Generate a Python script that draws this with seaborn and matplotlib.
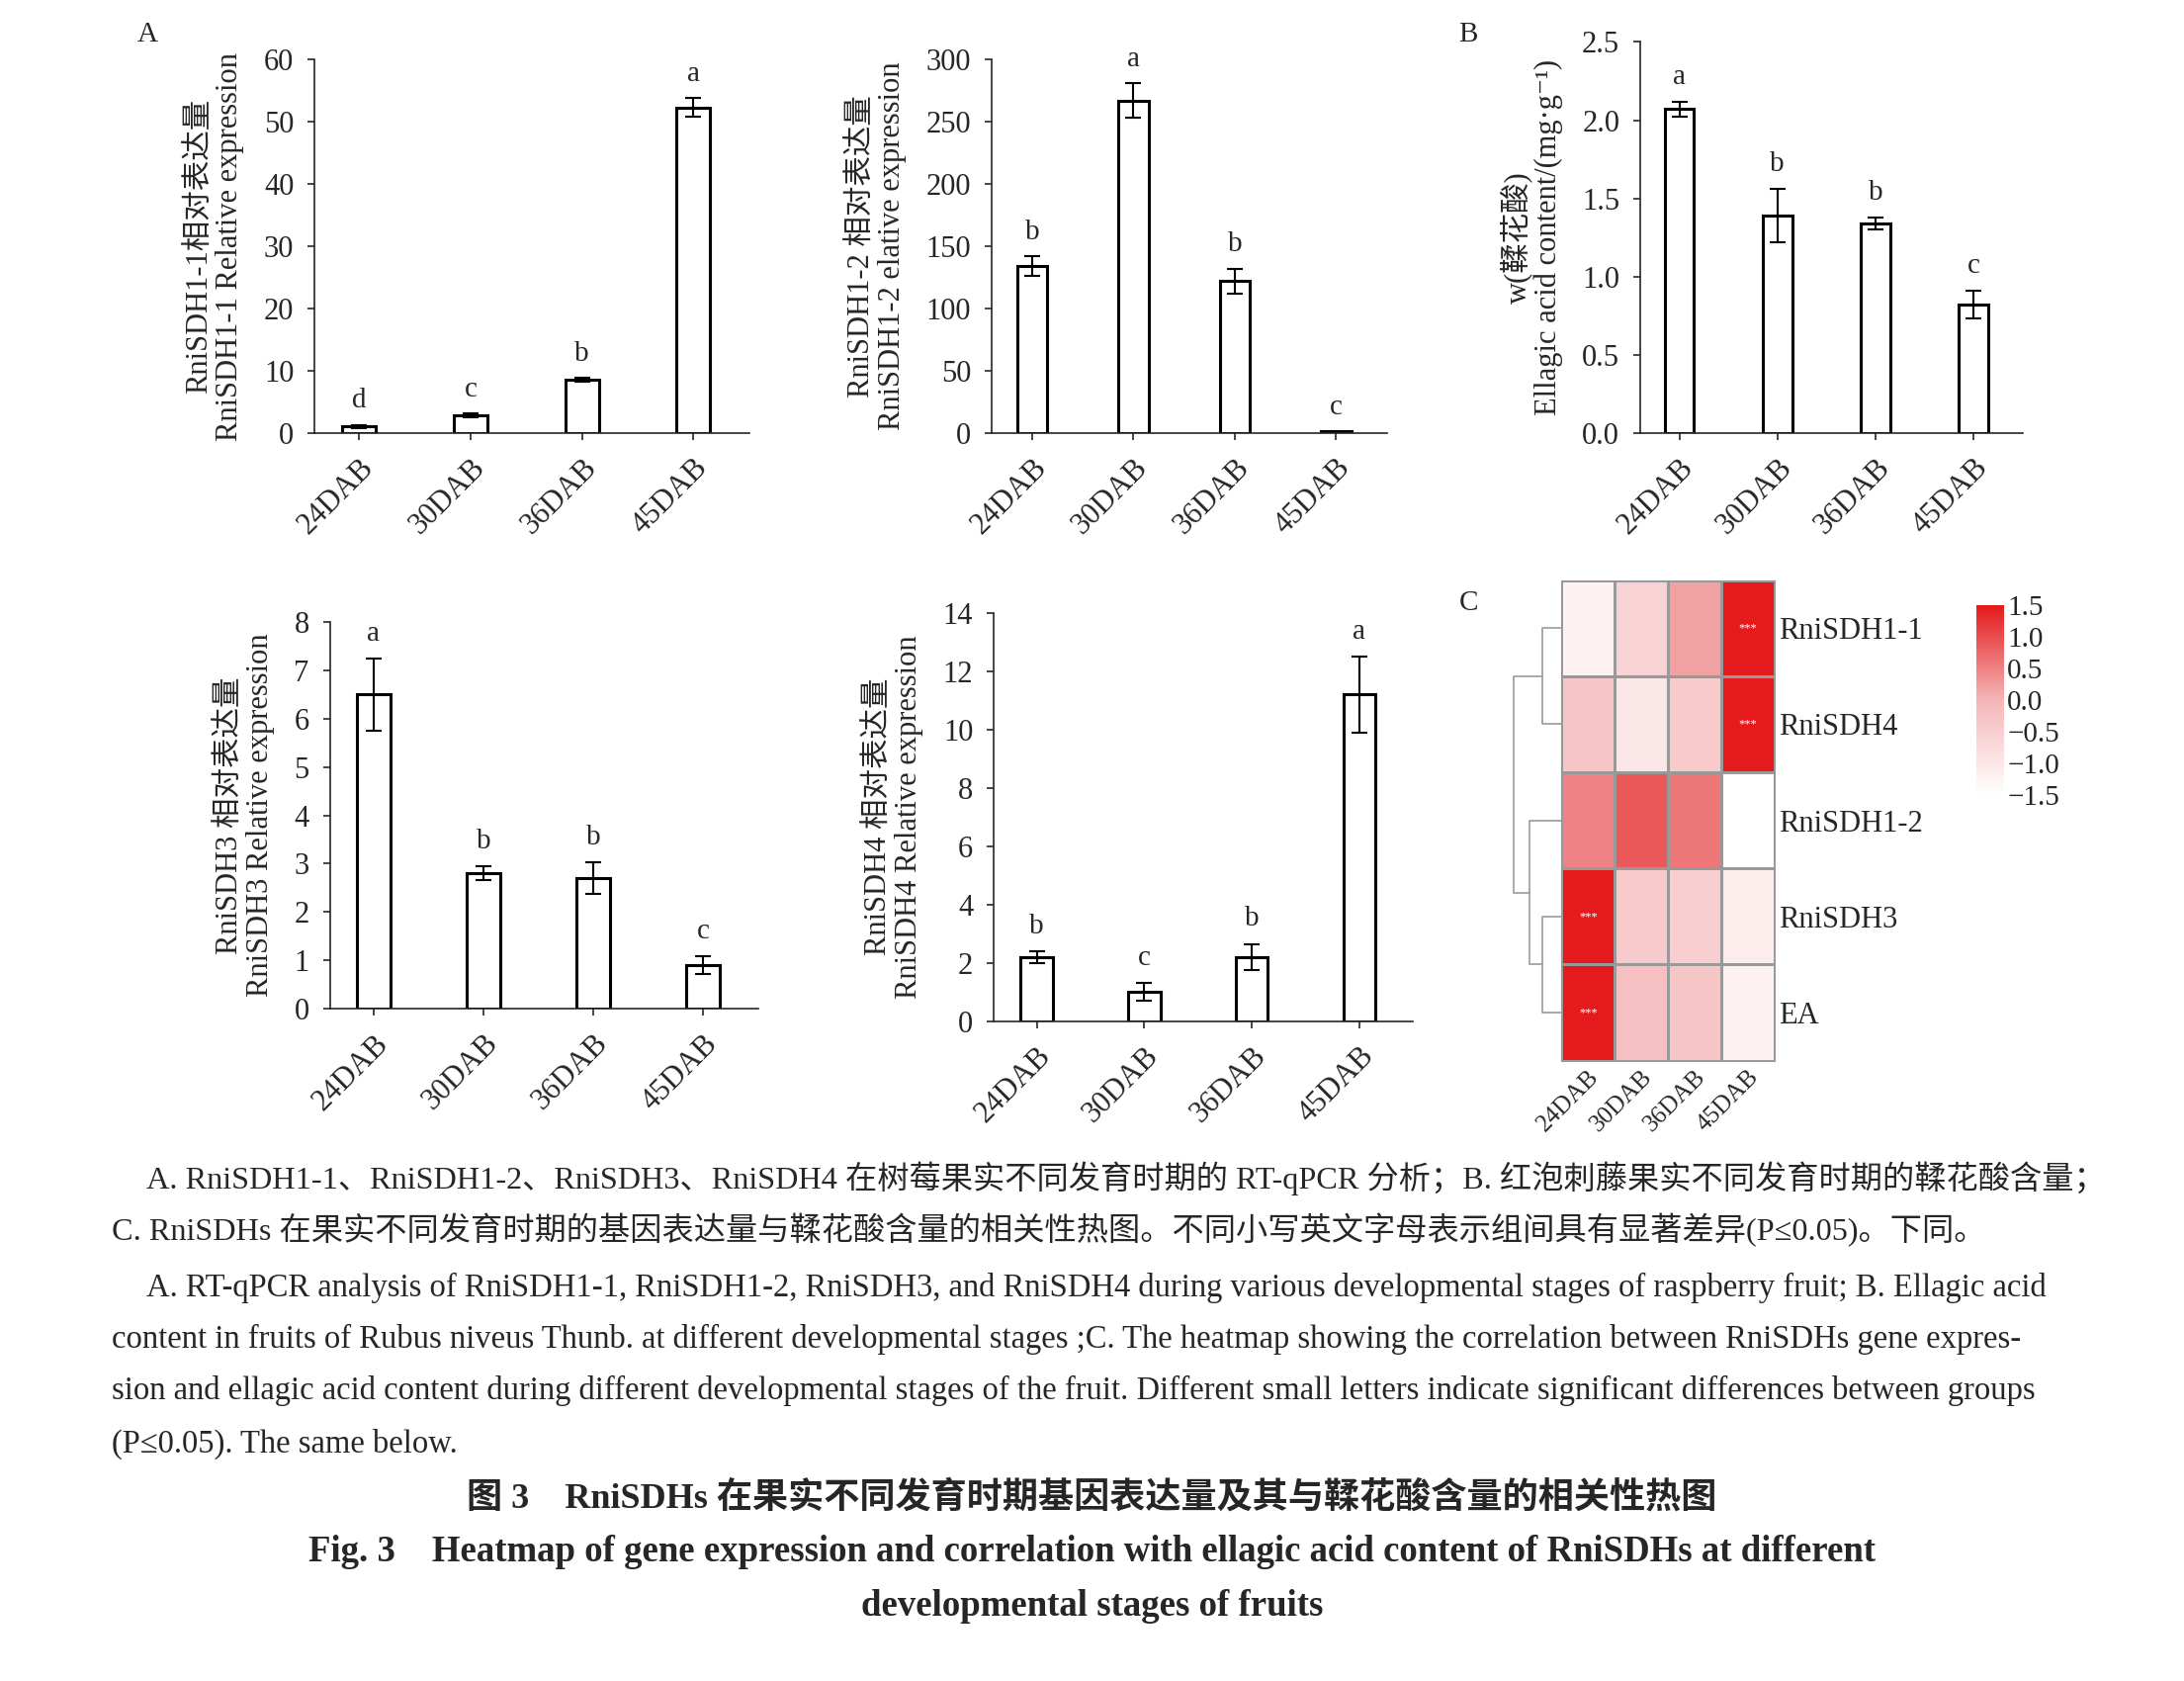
import numpy as np
import pandas as pd
import seaborn as sns
import matplotlib.pyplot as plt
from matplotlib.colors import LinearSegmentedColormap

sns.set_style("ticks")
plt.rcParams['font.family'] = ['Liberation Serif', 'Noto Sans CJK SC', 'DejaVu Sans']

stages = ["24DAB", "30DAB", "36DAB", "45DAB"]

sdh11 = [1.0, 2.8, 8.5, 52.3]
sdh11_err = [0.3, 0.3, 0.3, 1.5]
sdh11_let = ["d", "c", "b", "a"]

sdh12 = [134, 267, 122, 1]
sdh12_err = [8, 14, 10, 0.5]
sdh12_let = ["b", "a", "b", "c"]

ea = [2.07, 1.39, 1.34, 0.82]
ea_err = [0.05, 0.17, 0.04, 0.09]
ea_let = ["a", "b", "b", "c"]

sdh3 = [6.5, 2.8, 2.7, 0.9]
sdh3_err = [0.75, 0.15, 0.33, 0.18]
sdh3_let = ["a", "b", "b", "c"]

sdh4 = [2.2, 1.0, 2.2, 11.2]
sdh4_err = [0.2, 0.3, 0.45, 1.3]
sdh4_let = ["b", "c", "b", "a"]

heat_rows = ["RniSDH1-1", "RniSDH4", "RniSDH1-2", "RniSDH3", "EA"]
heat_vals = [[-1.2, -0.6, 0.2, 1.5],
             [-0.3, -1.0, -0.4, 1.5],
             [0.5, 0.9, 0.6, -1.5],
             [1.5, -0.4, -0.5, -1.1],
             [1.5, -0.2, -0.3, -1.2]]
heat_stars = [[0, 0, 0, 1], [0, 0, 0, 1], [0, 0, 0, 0], [1, 0, 0, 0], [1, 0, 0, 0]]

fig = plt.figure(figsize=(22.09, 17), dpi=100)
FS = 21


def bar_panel(rect, vals, errs, lets, ylim, yticks, ylabel, fmt=None):
    ax = fig.add_axes(rect)
    df = pd.DataFrame({"stage": stages, "val": vals})
    sns.barplot(data=df, x="stage", y="val", ax=ax, color="white",
                edgecolor="black", linewidth=2.2, width=0.3)
    ax.errorbar(range(4), vals, yerr=errs, fmt="none", ecolor="black",
                elinewidth=1.5, capsize=6, capthick=1.5)
    span = ylim[1] - ylim[0]
    for i, (v, e, l) in enumerate(zip(vals, errs, lets)):
        ax.text(i, v + e + span * 0.03, l, ha="center", va="bottom", fontsize=FS)
    ax.set_ylim(ylim)
    ax.set_xlim(-0.4, 3.5)
    ax.set_yticks(yticks)
    if fmt:
        ax.set_yticklabels([fmt % t for t in yticks])
    ax.set_xlabel("")
    ax.set_ylabel(ylabel, fontsize=FS + 1, linespacing=1.05, labelpad=14)
    ax.tick_params(labelsize=FS + 1, width=1.2, length=5, pad=10)
    plt.setp(ax.get_xticklabels(), rotation=45, ha="right", rotation_mode="anchor")
    for s in ["top", "right"]:
        ax.spines[s].set_visible(False)
    for s in ["left", "bottom"]:
        ax.spines[s].set_linewidth(1.2)
    return ax


bar_panel([0.144, 0.7425, 0.199, 0.222], sdh11, sdh11_err, sdh11_let, (0, 60),
          range(0, 61, 10), "RniSDH1-1相对表达量\nRniSDH1-1 Relative expression")
bar_panel([0.454, 0.7425, 0.181, 0.222], sdh12, sdh12_err, sdh12_let, (0, 300),
          range(0, 301, 50), "RniSDH1-2 相对表达量\nRniSDH1-2 elative expression")
bar_panel([0.751, 0.7425, 0.175, 0.2325], ea, ea_err, ea_let, (0, 2.5),
          np.arange(0, 2.51, 0.5), "w(鞣花酸)\nEllagic acid content/(mg·g⁻¹)", fmt="%.1f")
bar_panel([0.151, 0.40, 0.196, 0.23], sdh3, sdh3_err, sdh3_let, (0, 8),
          range(0, 9), "RniSDH3 相对表达量\nRniSDH3 Relative expression")
bar_panel([0.455, 0.3925, 0.192, 0.243], sdh4, sdh4_err, sdh4_let, (0, 14),
          range(0, 15, 2), "RniSDH4 相对表达量\nRniSDH4 Relative expression")

# heatmap
cmap = LinearSegmentedColormap.from_list("wr", ["#ffffff", "#f4b6b8", "#e41a1c"])
hax = fig.add_axes([0.715, 0.369, 0.0974, 0.286])
cax = fig.add_axes([0.905, 0.527, 0.0128, 0.113])
hdf = pd.DataFrame(heat_vals, index=heat_rows, columns=stages)
annot = np.array([["***" if s else "" for s in r] for r in heat_stars])
sns.heatmap(hdf, ax=hax, cmap=cmap, vmin=-1.5, vmax=1.5, cbar_ax=cax,
            annot=annot, fmt="", annot_kws={"color": "white", "fontsize": 9},
            linewidths=1, linecolor="#999999")
hax.yaxis.tick_right()
hax.set_yticklabels(heat_rows, rotation=0, fontsize=FS + 1)
hax.set_xticklabels(stages, rotation=45, ha="right", rotation_mode="anchor", fontsize=FS - 3)
hax.tick_params(length=0)
for s in hax.spines.values():
    s.set_visible(True)
    s.set_color("#999999")
cax.set_yticks([-1.5, -1.0, -0.5, 0.0, 0.5, 1.0, 1.5])
cax.set_yticklabels(["\u22121.5", "\u22121.0", "\u22120.5", "0.0", "0.5", "1.0", "1.5"])
cax.tick_params(labelsize=FS, length=0, pad=2)

# dendrogram
dax = fig.add_axes([0.686, 0.369, 0.029, 0.286])
dax.set_ylim(5, 0)
dax.set_xlim(1, 0)
dax.axis("off")
lc = "#999999"
dax.plot([0, 0.3, 0.3, 0], [0.5, 0.5, 1.5, 1.5], color=lc, lw=1.2)
dax.plot([0, 0.3, 0.3, 0], [3.5, 3.5, 4.5, 4.5], color=lc, lw=1.2)
dax.plot([0, 0.5, 0.5, 0.3], [2.5, 2.5, 4.0, 4.0], color=lc, lw=1.2)
dax.plot([0.3, 0.75, 0.75, 0.5], [1.0, 1.0, 3.25, 3.25], color=lc, lw=1.2)

fig.text(0.063, 0.975, "A", fontsize=FS)
fig.text(0.668, 0.975, "B", fontsize=FS)
fig.text(0.668, 0.637, "C", fontsize=FS)

cap = 23.5
fig.text(0.067, 0.293, "A. RniSDH1-1、RniSDH1-2、RniSDH3、RniSDH4 在树莓果实不同发育时期的 RT-qPCR 分析；B. 红泡刺藤果实不同发育时期的鞣花酸含量；", fontsize=23.2)
fig.text(0.051, 0.2625, "C. RniSDHs 在果实不同发育时期的基因表达量与鞣花酸含量的相关性热图。不同小写英文字母表示组间具有显著差异(P≤0.05)。下同。", fontsize=23.2)
fig.text(0.067, 0.229, "A. RT-qPCR analysis of RniSDH1-1, RniSDH1-2, RniSDH3, and RniSDH4 during various developmental stages of raspberry fruit; B. Ellagic acid", fontsize=cap)
fig.text(0.051, 0.198, "content in fruits of Rubus niveus Thunb. at different developmental stages ;C. The heatmap showing the correlation between RniSDHs gene expres-", fontsize=cap)
fig.text(0.051, 0.1675, "sion and ellagic acid content during different developmental stages of the fruit. Different small letters indicate significant differences between groups", fontsize=cap)
fig.text(0.051, 0.136, "(P≤0.05). The same below.", fontsize=cap)
fig.text(0.5, 0.103, "图 3    RniSDHs 在果实不同发育时期基因表达量及其与鞣花酸含量的相关性热图", fontsize=26, ha="center", fontweight="bold")
fig.text(0.5, 0.071, "Fig. 3    Heatmap of gene expression and correlation with ellagic acid content of RniSDHs at different", fontsize=26.5, ha="center", fontweight="bold")
fig.text(0.5, 0.039, "developmental stages of fruits", fontsize=26.5, ha="center", fontweight="bold")

fig.savefig("out.png", dpi=100, facecolor="white")
